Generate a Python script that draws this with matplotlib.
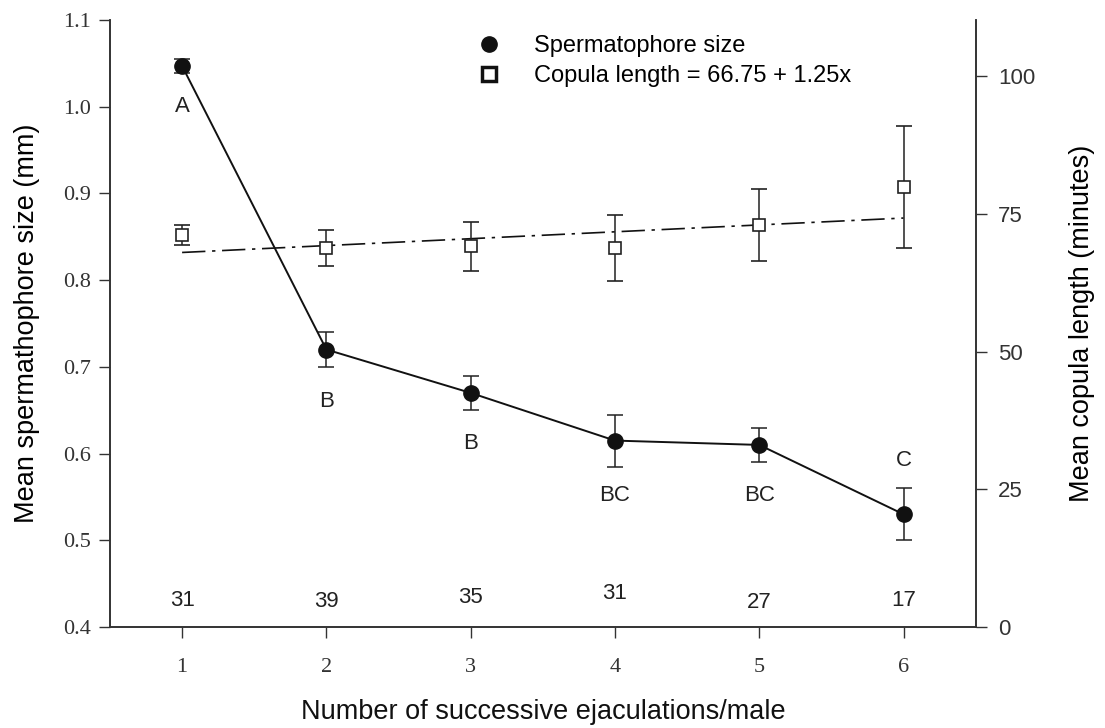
import numpy as np
import matplotlib
matplotlib.use("Agg")
from matplotlib import pyplot as plt
from matplotlib.lines import Line2D

# data
ejac = [1, 2, 3, 4, 5, 6]
sperm_size = [1.047, 0.720, 0.670, 0.615, 0.610, 0.530]
sperm_err = [0.008, 0.020, 0.020, 0.030, 0.020, 0.030]
copula = [71.1, 68.8, 69.1, 68.8, 73.0, 79.9]
copula_err = [1.8, 3.3, 4.5, 6.0, 6.5, 11.0]
fit_a, fit_b = 66.75, 1.25
letters = ["A", "B", "B", "BC", "BC", "C"]
letter_y = [1.0, 0.66, 0.612, 0.552, 0.552, 0.592]
n_males = [31, 39, 35, 31, 27, 17]
n_y = [4.9, 4.7, 5.4, 6.0, 4.4, 4.9]

sans = ["Liberation Sans", "DejaVu Sans"]
serif = ["Liberation Serif", "DejaVu Serif"]

fig = plt.figure(figsize=(11.05, 7.28), dpi=100)
ax = fig.add_axes([0.0995, 0.1387, 0.7835, 0.8338])
ax2 = ax.twinx()

# spermatophore size (left axis)
ax.errorbar(ejac, sperm_size, yerr=sperm_err, color="#111111", lw=1.4,
            marker="o", ms=11, mfc="#111111", mec="#111111",
            ecolor="#222222", elinewidth=1.1, capsize=6, capthick=1.1, zorder=3)

# copula length (right axis)
ax2.errorbar(ejac, copula, yerr=copula_err, fmt="s", ms=9, mfc="white",
             mec="#222222", mew=1.2, ecolor="#222222", elinewidth=1.1,
             capsize=6, capthick=1.1, zorder=3)
xfit = np.array([ejac[0], ejac[-1]])
ax2.plot(xfit, fit_a + fit_b * xfit, color="#111111", lw=1.2,
         dashes=[14, 4, 2, 4], zorder=2)

for x, t, y in zip(ejac, letters, letter_y):
    ax.text(x, y, t, ha="center", va="center", fontsize=16, family=sans, color="#222222")
for x, n, y in zip(ejac, n_males, n_y):
    ax2.text(x, y, str(n), ha="center", va="center", fontsize=16, family=sans, color="#222222")

ax.set_xlim(0.5, 6.5)
ax.set_ylim(0.4, 1.1)
ax2.set_ylim(0, 110.2)
ax.set_xticks(ejac)
ax.set_yticks(np.arange(0.4, 1.101, 0.1))
ax.set_yticklabels(["%.1f" % v for v in np.arange(0.4, 1.101, 0.1)])
ax2.set_yticks([0, 25, 50, 75, 100])

for a in (ax, ax2):
    a.spines["top"].set_visible(False)
    for s in ("left", "right", "bottom"):
        a.spines[s].set_color("#333333")
        a.spines[s].set_linewidth(1.2)

ax.tick_params(axis="y", direction="out", length=8, width=1, colors="#333333", pad=6)
ax.tick_params(axis="x", direction="out", length=8, width=1, colors="#333333", pad=14)
ax2.tick_params(axis="y", direction="out", length=8, width=1, colors="#333333", pad=8)
for lab in ax.get_yticklabels() + ax.get_xticklabels():
    lab.set_family(serif)
    lab.set_fontsize(16)
    lab.set_color("#333333")
for lab in ax2.get_yticklabels():
    lab.set_family(sans)
    lab.set_fontsize(16)
    lab.set_color("#333333")

ax.set_ylabel("Mean spermathophore size (mm)", fontsize=19.5, family=sans, labelpad=16)
ax2.set_ylabel("Mean copula length (minutes)", fontsize=19.5, family=sans, labelpad=24)
fig.text(0.4914, 1 - 712 / 728, "Number of successive ejaculations/male",
         ha="center", va="center", fontsize=19.5, family=sans, color="#111111")

handles = [
    Line2D([], [], ls="none", marker="o", ms=11, mfc="#111111", mec="#111111"),
    Line2D([], [], ls="none", marker="s", ms=10, mfc="white", mec="#111111", mew=2.5),
]
ax.legend(handles, ["Spermatophore size", "Copula length = 66.75 + 1.25x"],
          loc="upper left", bbox_to_anchor=(0.4, 1.01), frameon=False,
          prop={"family": sans, "size": 17}, handletextpad=1.4, labelspacing=0.35,
          handlelength=1.0)

fig.savefig("out.png", dpi=100)
